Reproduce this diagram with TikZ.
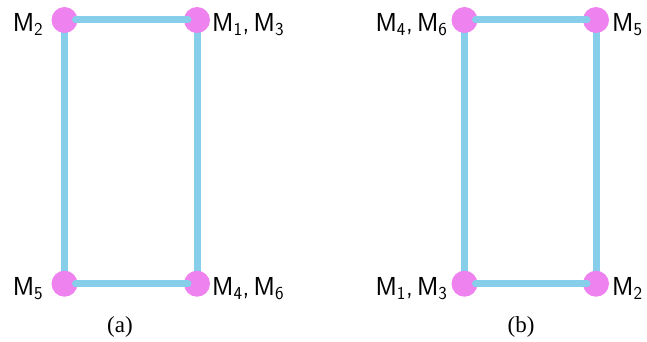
\documentclass[tikz,border=0pt]{standalone}
\usepackage{fontspec}
\newfontfamily\capfont{Liberation Serif}
\definecolor{dotc}{RGB}{238,130,238}
\definecolor{linec}{RGB}{135,206,235}
\newcommand{\lblM}[1]{$\mathsf{M}_{\mathsf{#1}}$}
\tikzset{
  dotnode/.style={circle,fill=dotc,draw=none,minimum size=26pt,inner sep=0pt},
  vline/.style={draw=linec,line width=7pt},
  hline/.style={draw=linec,line width=7pt,line cap=round,shorten <=11pt,shorten >=9pt},
  lbl/.style={inner sep=0pt,font=\sffamily\fontsize{26}{30}\selectfont},
  lblL/.style={lbl,anchor=base east},
  lblR/.style={lbl,anchor=base west},
  capt/.style={inner sep=0pt,font=\capfont\fontsize{23}{26}\selectfont}
}
\begin{document}
\begin{tikzpicture}[x=1pt,y=-1pt]
\useasboundingbox (0,0) rectangle (647,342);
% panel (a)
\coordinate (a1) at (64.5,20);
\coordinate (a2) at (197,20);
\coordinate (a3) at (64.5,283.7);
\coordinate (a4) at (197,283.7);
\draw[vline] (a1) -- (a3);
\draw[vline] (a2) -- (a4);
\node[dotnode] (A1) at (a1) {};
\node[dotnode] (A2) at (a2) {};
\node[dotnode] (A3) at (a3) {};
\node[dotnode] (A4) at (a4) {};
\draw[hline] (A1.center) -- (A2.center);
\draw[hline] (A3.center) -- (A4.center);
\node[lblL] (LA1) at (43.5,31.7) {\lblM{2}};
\node[lblR] (LA2) at (212,31.7) {\lblM{1},\,\lblM{3}};
\node[lblL] (LA3) at (43.5,295.7) {\lblM{5}};
\node[lblR] (LA4) at (212,295.7) {\lblM{4},\,\lblM{6}};
\node[capt] (CA) at (120,327) {(a)};
% panel (b)
\coordinate (b1) at (464.5,20);
\coordinate (b2) at (596,20);
\coordinate (b3) at (464.5,283.7);
\coordinate (b4) at (596,283.7);
\draw[vline] (b1) -- (b3);
\draw[vline] (b2) -- (b4);
\node[dotnode] (B1) at (b1) {};
\node[dotnode] (B2) at (b2) {};
\node[dotnode] (B3) at (b3) {};
\node[dotnode] (B4) at (b4) {};
\draw[hline] (B1.center) -- (B2.center);
\draw[hline] (B3.center) -- (B4.center);
\node[lblL] (LB1) at (447.7,31.7) {\lblM{4},\,\lblM{6}};
\node[lblR] (LB2) at (612,31.7) {\lblM{5}};
\node[lblL] (LB3) at (447.7,295.7) {\lblM{1},\,\lblM{3}};
\node[lblR] (LB4) at (612,295.7) {\lblM{2}};
\node[capt] (CB) at (521,327) {(b)};
\end{tikzpicture}
\end{document}
